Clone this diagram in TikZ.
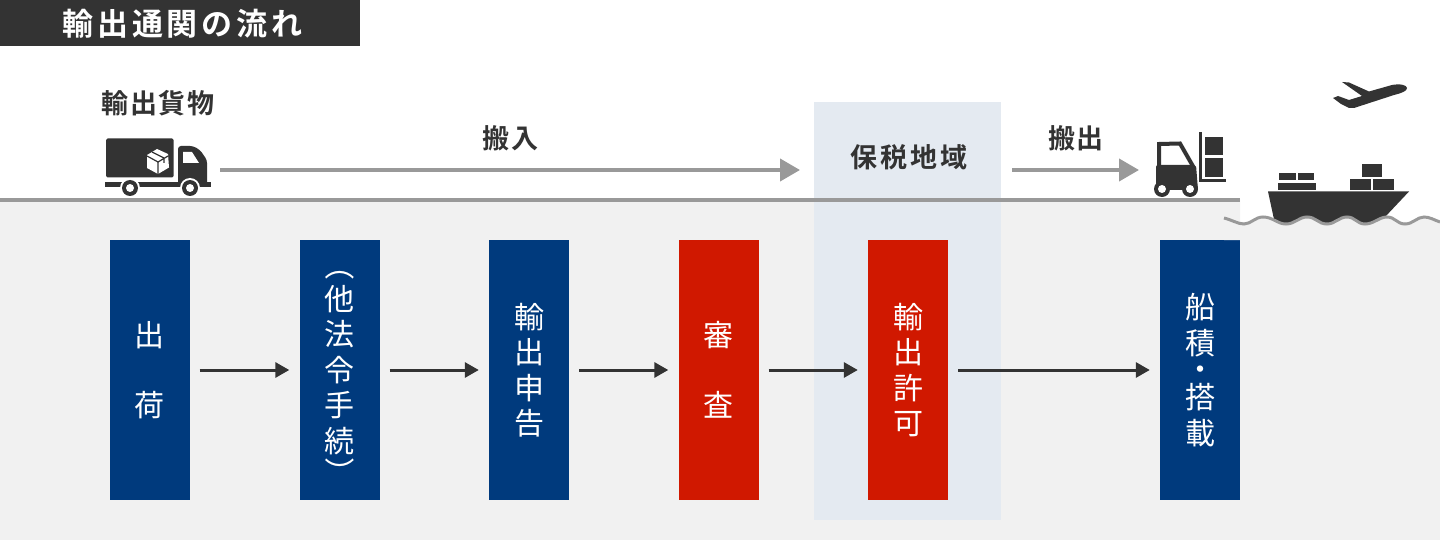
\documentclass[tikz,border=0pt]{standalone}
\usepackage{fontspec}
\setmainfont{Noto Sans CJK JP}
\newfontfamily\boldjp[LetterSpace=6]{Noto Sans CJK JP Bold}
\newfontfamily\boldjpwide[LetterSpace=12]{Noto Sans CJK JP Bold}
\definecolor{ink}{HTML}{333333}
\definecolor{navy}{HTML}{003A7D}
\definecolor{redbox}{HTML}{D01800}
\definecolor{floor}{HTML}{F1F1F1}
\definecolor{zone}{HTML}{E4EAF1}
\definecolor{rail}{HTML}{999999}
\usetikzlibrary{arrows.meta}
\tikzset{
 stepbox/.style={minimum width=80pt,minimum height=260pt,inner sep=0pt,text=white,font=\fontsize{30}{35.5}\selectfont,align=center},
 navybox/.style={stepbox,fill=navy},
 redcard/.style={stepbox,fill=redbox},
 paren/.style={inner sep=0pt,text=white,font=\fontsize{30}{30}\selectfont},
 flow/.style={draw=ink,line width=3pt,-{Triangle[length=14pt,width=15pt]}},
 move/.style={draw=rail,line width=4pt,-{Triangle[length=20pt,width=22pt]}},
 lbl/.style={text=ink,inner sep=0pt,font=\boldjp\fontsize{27}{30}\selectfont},
 icon/.style={fill=ink,draw=none}
}
\begin{document}
\begin{tikzpicture}[x=1pt,y=-1pt]
\useasboundingbox (0,0) rectangle (1440,540);
\fill[white] (0,0) rectangle (1440,540);
\fill[floor] (0,200) -- (1240,200) -- (1240,222) -- (1440,222) -- (1440,540) -- (0,540) -- cycle;
\fill[zone] (814,102) rectangle (1001,520);
\draw[rail,line width=4pt] (0,200) -- (1240,200);
% title
\node[fill=ink,minimum width=360pt,minimum height=46pt,inner sep=0pt,anchor=north west] (title) at (0,0) {};
\node[text=white,inner sep=0pt,font=\boldjpwide\fontsize{31}{32}\selectfont] (titletext) at (182.5,24) {輸出通関の流れ};
% labels
\node[lbl] (cargo) at (158,103) {輸出貨物};
\node[lbl] (inlbl) at (510,138) {搬\hspace{2pt}入};
\node[lbl,font=\boldjpwide\fontsize{27}{30}\selectfont] (bond) at (909,157) {保税地域};
\node[lbl] (outlbl) at (1076,138) {搬出};
% steps
\node[navybox] (s1) at (149.5,370) {出\\[35pt]荷};
\node[navybox] (s2) at (339.5,370) {他\\法\\令\\手\\続};
\node[paren] (pl) at (339.5,265) {\rotatebox{-90}{（}};
\node[paren] (pr) at (339.5,472) {\rotatebox{-90}{）}};
\node[navybox] (s3) at (529,370) {輸\\出\\申\\告};
\node[redcard] (s4) at (718.5,370) {審\\[35pt]査};
\node[redcard] (s5) at (908,370) {輸\\出\\許\\可};
\node[navybox] (s6) at (1200,370) {船\\積\\[-9pt]・\\[-7.5pt]搭\\載};
% flow arrows
\draw[flow] ([xshift=10pt]s1.east) -- ([xshift=-10pt]s2.west);
\draw[flow] ([xshift=10pt]s2.east) -- ([xshift=-10pt]s3.west);
\draw[flow] ([xshift=10pt]s3.east) -- ([xshift=-10pt]s4.west);
\draw[flow] ([xshift=10pt]s4.east) -- ([xshift=-10pt]s5.west);
\draw[flow] ([xshift=10pt]s5.east) -- ([xshift=-10pt]s6.west);
% movement arrows
\coordinate (m1a) at (220,170); \coordinate (m1b) at (800,170);
\coordinate (m2a) at (1012,170); \coordinate (m2b) at (1139,170);
\draw[move] (m1a) -- (m1b);
\draw[move] (m2a) -- (m2b);
% truck
\fill[icon,rounded corners=1.5pt] (106,138.5) rectangle (173.5,177.5);
\fill[white] (157,149) -- (168,154) -- (169,167.5) -- (158,174) -- (147,168) -- (147,155) -- cycle;
\draw[ink,line width=1.2pt] (152,152) -- (164,158) -- (164,163) (147,156) -- (158,162) -- (168,156) (158,162) -- (158,174);
\fill[icon,rounded corners=3pt] (178,146) -- (193,146) -- (200,150) -- (207,160) -- (207,187) -- (178,187) -- cycle;
\fill[white] (183,152) -- (192,152) -- (199,163) -- (183,163) -- cycle;
\fill[icon] (105,182) rectangle (211,187);
\foreach \wx/\wn in {130/wa,190/wb}{
  \fill[white] (\wx,188) circle (10pt);
  \fill[icon] (\wx,188) circle (8pt);
  \fill[white] (\wx,188) circle (4pt);
}
% forklift
\draw[ink,line width=4pt] (1159,168) -- (1159,144) -- (1180,143.5) -- (1194,168);
\fill[icon,rounded corners=2pt] (1156,165) -- (1196,165) -- (1198,190) -- (1156,190) -- cycle;
\fill[icon] (1162,189) circle (8pt); \fill[white] (1162,189) circle (4pt);
\fill[icon] (1190,189) circle (8pt); \fill[white] (1190,189) circle (4pt);
\fill[icon] (1199,132) rectangle (1202,182);
\fill[icon] (1199,179) rectangle (1226,182);
\fill[icon] (1205,137) rectangle (1223,155);
\fill[icon] (1205,158) rectangle (1223,177);
% ship
\fill[icon] (1268,191.5) -- (1409,191.5) -- (1385,217) -- (1375,224) -- (1275,224) -- cycle;
\fill[icon] (1278,183) rectangle (1316,190.5);
\fill[icon] (1279,173) rectangle (1296,180.5);
\fill[icon] (1298,173) rectangle (1314,180.5);
\fill[icon] (1350,179) rectangle (1371,190.5);
\fill[icon] (1373,179) rectangle (1394,190.5);
\fill[icon] (1362,164) rectangle (1382,177);
% water below the wave
\fill[floor] (1224,218) .. controls (1232,220) and (1238,224) .. (1244,224) .. controls (1251,224) and (1255,217) .. (1263,217) .. controls (1273,217) and (1277,224) .. (1286,224) .. controls (1295,224) and (1299,217) .. (1307,217) .. controls (1316,217) and (1318,224) .. (1327,224) .. controls (1335,224) and (1339,217) .. (1347,217) .. controls (1355,217) and (1357,224) .. (1365,224) .. controls (1374,224) and (1379,217) .. (1387,217) .. controls (1395,217) and (1397,224) .. (1405,224) .. controls (1413,224) and (1417,217) .. (1424,217) .. controls (1430,217) and (1434,220) .. (1440,222) -- (1440,240) -- (1224,240) -- cycle;
\draw[rail,line width=3pt] (1224,218) .. controls (1232,220) and (1238,224) .. (1244,224) .. controls (1251,224) and (1255,217) .. (1263,217) .. controls (1273,217) and (1277,224) .. (1286,224) .. controls (1295,224) and (1299,217) .. (1307,217) .. controls (1316,217) and (1318,224) .. (1327,224) .. controls (1335,224) and (1339,217) .. (1347,217) .. controls (1355,217) and (1357,224) .. (1365,224) .. controls (1374,224) and (1379,217) .. (1387,217) .. controls (1395,217) and (1397,224) .. (1405,224) .. controls (1413,224) and (1417,217) .. (1424,217) .. controls (1430,217) and (1434,220) .. (1440,222);
% plane
\fill[icon] (1342,82) -- (1349,82.5) -- (1369,91.5) -- (1392,85) .. controls (1400,83.5) and (1407,85) .. (1407,88) .. controls (1407,91) and (1402,93) .. (1394,95) -- (1354,108) -- (1349,108) -- (1341,104) -- (1333,98) -- (1338,96) -- (1349,100) -- (1362,96) -- cycle;
\end{tikzpicture}
\end{document}
